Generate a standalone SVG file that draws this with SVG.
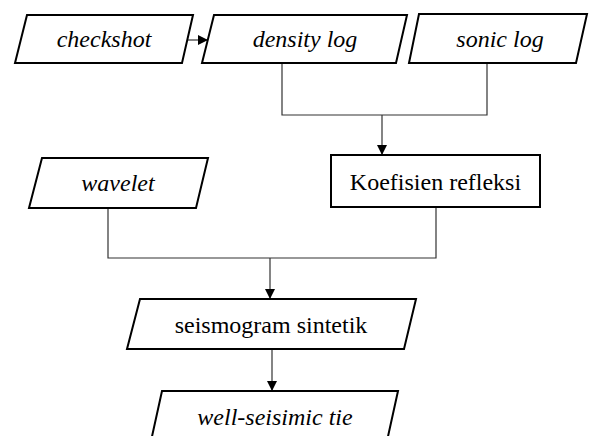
<svg xmlns="http://www.w3.org/2000/svg" width="589" height="436" viewBox="0 0 589 436">
<style>
.box{fill:#fff;stroke:#000;stroke-width:2;stroke-linejoin:miter}
text{font-family:'Liberation Serif','Times New Roman',Tinos,'DejaVu Serif',serif;font-size:24px;fill:#000;text-anchor:middle}
.i{font-style:italic}
.c{fill:none;stroke:#333;stroke-width:1.2}
</style>
<defs>
<marker id="ah" markerUnits="userSpaceOnUse" markerWidth="12" markerHeight="12" viewBox="0 0 12 12" refX="11" refY="6" orient="auto">
<path d="M1,1 L11,6 L1,11 Z" fill="#000"/>
</marker>
</defs>
<rect width="589" height="436" fill="#fff"/>
<g id="connectors">
<path class="c" d="M187,40 H208" marker-end="url(#ah)"/>
<path class="c" d="M282,63 V115 H487 V63"/>
<path class="c" d="M382,115 V155" marker-end="url(#ah)"/>
<path class="c" d="M108,208 V258 H436 V207"/>
<path class="c" d="M270,258 V299" marker-end="url(#ah)"/>
<path class="c" d="M272,349 V391" marker-end="url(#ah)"/>
</g>
<g id="checkshot">
<polygon class="box" points="27,15 193,15 182,63 15,63"/>
<text class="i" x="104" y="47" font-family="Liberation Serif, DejaVu Serif, serif">checkshot</text>
</g>
<g id="density-log">
<polygon class="box" points="214,15 407,15 396,63 202,63"/>
<text class="i" x="305" y="47" font-family="Liberation Serif, DejaVu Serif, serif">density log</text>
</g>
<g id="sonic-log">
<polygon class="box" points="419,14 587,14 576,63 409,63"/>
<text class="i" x="500" y="47" font-family="Liberation Serif, DejaVu Serif, serif">sonic log</text>
</g>
<g id="wavelet">
<polygon class="box" points="42,158 208,158 196,208 29,208"/>
<text class="i" x="118" y="191" font-family="Liberation Serif, DejaVu Serif, serif">wavelet</text>
</g>
<g id="koefisien-refleksi">
<rect class="box" x="331" y="155" width="209" height="52"/>
<text x="435.5" y="190" font-family="Liberation Serif, DejaVu Serif, serif">Koefisien refleksi</text>
</g>
<g id="seismogram-sintetik">
<polygon class="box" points="140,299 416,299 404,349 127,349"/>
<text x="271" y="333" font-family="Liberation Serif, DejaVu Serif, serif">seismogram sintetik</text>
</g>
<g id="well-seismic-tie">
<polygon class="box" points="162,391 398,391 387,441 151,441"/>
<text class="i" x="275" y="425" font-family="Liberation Serif, DejaVu Serif, serif">well-seisimic tie</text>
</g>
</svg>
